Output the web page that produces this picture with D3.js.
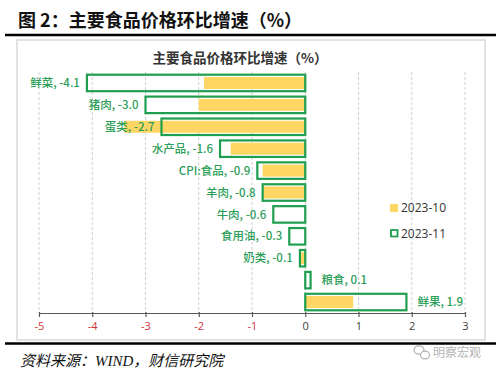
<!DOCTYPE html>
<html><head><meta charset="utf-8">
<script src="https://cdn.jsdelivr.net/npm/d3@7"></script>
<style>
html,body{margin:0;padding:0;background:#fff;}
svg{display:block;}
</style></head>
<body>
<svg id="c" width="500" height="374"></svg>
<script>
const categories = ["鲜菜","猪肉","蛋类","水产品","CPI:食品","羊肉","牛肉","食用油","奶类","粮食","鲜果"];
const oct2023 = [-1.9,-2.0,-3.4,-1.4,-0.8,-0.8,0,0,-0.1,0,0.9];
const nov2023 = [-4.1,-3.0,-2.7,-1.6,-0.9,-0.8,-0.6,-0.3,-0.1,0.1,1.9];
const xTicks = [-5,-4,-3,-2,-1,0,1,2,3];
const seriesNames = ["2023-10","2023-11"];

const svg = d3.select("#c");
const CJK = "'Noto Sans CJK SC','Noto Sans',sans-serif";
const green = "#1f9e4f", yellow = "#fdd663", labelGreen = "#2b9e58";
const fmt1 = v => d3.format(".1f")(v).replace("\u2212","-");
const fmt0 = v => d3.format("d")(v).replace("\u2212","-");

// header
svg.append("text").attr("x",18).attr("y",27)
  .attr("font-family",CJK).attr("font-weight","bold").attr("font-size",18).attr("fill","#111")
  .text("图 2：主要食品价格环比增速（%）");
svg.append("line").attr("x1",5).attr("x2",496).attr("y1",35).attr("y2",35)
  .attr("stroke","#000").attr("stroke-width",2.5);

// inner frame
svg.append("rect").attr("x",17).attr("y",40).attr("width",468).attr("height",300)
  .attr("fill","#fff").attr("stroke","#d9d9d9").attr("stroke-width",1.5);

const x = d3.scaleLinear().domain([-5,3]).range([39,465]);
const y = d3.scaleBand().domain(categories).range([72,313]).paddingInner(0.18).paddingOuter(0.09);

// gridlines
svg.append("g").selectAll("line").data(xTicks).join("line")
  .attr("x1",d=>x(d)).attr("x2",d=>x(d)).attr("y1",72).attr("y2",313)
  .attr("stroke","#d0d0d0").attr("stroke-width",1).attr("stroke-dasharray","3,2");

// chart title
svg.append("text").attr("x",240).attr("y",63).attr("text-anchor","middle")
  .attr("font-family",CJK).attr("font-weight","bold").attr("font-size",13.5).attr("fill","#333")
  .text("主要食品价格环比增速（%）");

// yellow bars (Oct)
const yh = 12;
svg.append("g").selectAll("rect").data(categories).join("rect")
  .attr("x",(d,i)=>Math.min(x(0),x(oct2023[i])))
  .attr("width",(d,i)=>Math.abs(x(oct2023[i])-x(0)))
  .attr("y",d=>y(d)+y.bandwidth()/2-yh/2).attr("height",yh)
  .attr("fill",yellow);

// green outline bars (Nov)
const gh = 16.5;
svg.append("g").selectAll("rect").data(categories).join("rect")
  .attr("x",(d,i)=>Math.min(x(0),x(nov2023[i])))
  .attr("width",(d,i)=>Math.abs(x(nov2023[i])-x(0)))
  .attr("y",d=>y(d)+y.bandwidth()/2-gh/2).attr("height",gh)
  .attr("fill","none").attr("stroke",green).attr("stroke-width",2.2);

// labels
svg.append("g").selectAll("text").data(categories).join("text")
  .attr("x",(d,i)=>nov2023[i]<0 ? x(nov2023[i])-7 : x(nov2023[i])+11)
  .attr("y",d=>y(d)+y.bandwidth()/2)
  .attr("dy","0.36em")
  .attr("text-anchor",(d,i)=>nov2023[i]<0?"end":"start")
  .attr("font-family",CJK).attr("font-weight",500).attr("font-size",11.5).attr("fill",labelGreen)
  .text((d,i)=>d+", "+fmt1(nov2023[i]));

// axis
const ax = svg.append("g").attr("transform","translate(0,313)")
  .call(d3.axisBottom(x).tickValues(xTicks).tickSize(4).tickSizeOuter(0).tickFormat(fmt0));
ax.select(".domain").attr("stroke","#595959").attr("stroke-width",1.2);
ax.selectAll(".tick line").attr("stroke","#595959").attr("stroke-width",1.2).attr("y1",-1);
ax.selectAll(".tick text").attr("font-family","'Open Sans','DejaVu Sans',sans-serif").attr("font-size",11)
  .attr("dy","0.95em").attr("fill",d=>d<0?"#d2343a":"#404040");

// legend
const lg = svg.append("g");
lg.append("rect").attr("x",390).attr("y",204).attr("width",8).attr("height",8).attr("fill",yellow);
lg.append("rect").attr("x",391).attr("y",230).attr("width",6.5).attr("height",6.5).attr("fill","none").attr("stroke",green).attr("stroke-width",1.8);
lg.selectAll("text").data(seriesNames).join("text")
  .attr("x",401).attr("y",(d,i)=>208+i*25.5).attr("dy","0.36em")
  .attr("font-family","'Open Sans','DejaVu Sans',sans-serif").attr("font-size",12).attr("fill","#333")
  .text(d=>d);

// footer
svg.append("line").attr("x1",5).attr("x2",496).attr("y1",343.5).attr("y2",343.5)
  .attr("stroke","#000").attr("stroke-width",2.5);
svg.append("text").attr("x",20).attr("y",366)
  .attr("font-family","'Liberation Serif',"+CJK).attr("font-style","italic").attr("font-size",15).attr("fill","#111")
  .text("资料来源：WIND，财信研究院");

// watermark
const wm = svg.append("g").attr("opacity",0.75);
wm.append("ellipse").attr("cx",419).attr("cy",350).attr("rx",5).attr("ry",4.2).attr("fill","none").attr("stroke","#9a9a9a").attr("stroke-width",1.2);
wm.append("ellipse").attr("cx",425).attr("cy",355).attr("rx",4.5).attr("ry",3.8).attr("fill","#fff").attr("stroke","#9a9a9a").attr("stroke-width",1.2);
wm.append("text").attr("x",433).attr("y",357).attr("font-family",CJK).attr("font-size",12).attr("fill","#9a9a9a").text("明察宏观");
</script>
</body></html>
